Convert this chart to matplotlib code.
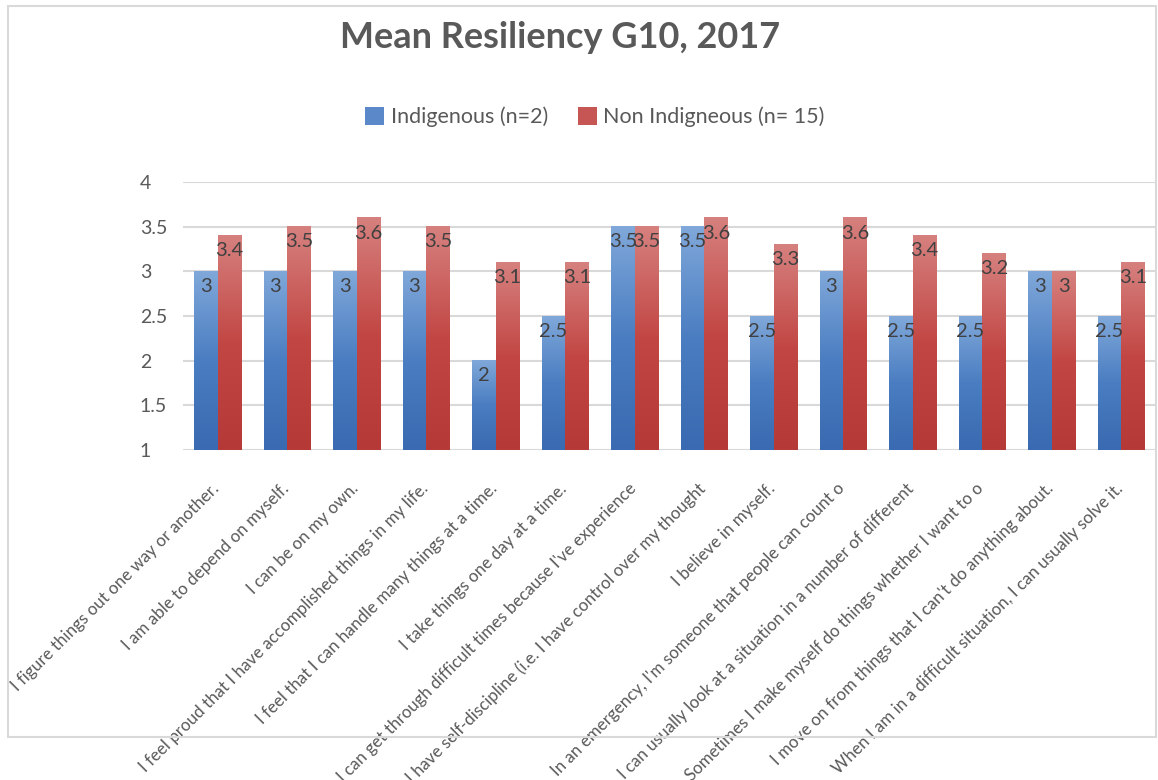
import numpy as np
import matplotlib.pyplot as plt
from matplotlib.colors import LinearSegmentedColormap
from matplotlib.patches import Rectangle, Patch
from matplotlib.transforms import ScaledTranslation

plt.rcParams['font.family'] = ['Lato', 'DejaVu Sans']

# data
items = [
    "I figure things out one way or another.",
    "I am able to depend on myself.",
    "I can be on my own.",
    "I feel proud that I have accomplished things in my life.",
    "I feel that I can handle many things at a time.",
    "I take things one day at a time.",
    "I can get through difficult times because I've experience",
    "I have self-discipline (i.e. I have control over my thought",
    "I believe in myself.",
    "In an emergency, I'm someone that people can count o",
    "I can usually look at a situation in a number of different",
    "Sometimes I make myself do things whether I want to o",
    "I move on from things that I can't do anything about.",
    "When I am in a difficult situation, I can usually solve it.",
]
indigenous = [3, 3, 3, 3, 2, 2.5, 3.5, 3.5, 2.5, 3, 2.5, 2.5, 3, 2.5]
non_indigenous = [3.4, 3.5, 3.6, 3.5, 3.1, 3.1, 3.5, 3.6, 3.3, 3.6, 3.4, 3.2, 3.0, 3.1]
series_names = ["Indigenous (n=2)", "Non Indigneous (n= 15)"]

blue_cmap = LinearSegmentedColormap.from_list('b', ['#80a8da', '#4a7dc1', '#3a6ab1'])
red_cmap = LinearSegmentedColormap.from_list('r', ['#d6817f', '#c24744', '#b53a37'])

W, H = 1158, 780
fig = plt.figure(figsize=(W / 100, H / 100), dpi=100)
ax = fig.add_axes([183 / W, (H - 450) / H, (1156 - 183) / W, (450 - 182) / H])

x = np.arange(len(items))
bw = 0.34
b1 = ax.bar(x - bw / 2, np.array(indigenous) - 1, bw, bottom=1, color='none', zorder=3)
b2 = ax.bar(x + bw / 2, np.array(non_indigenous) - 1, bw, bottom=1, color='none', zorder=3)

# gradient fill for each bar
grad = np.linspace(0, 1, 256).reshape(-1, 1)
for bars, cmap in [(b1, blue_cmap), (b2, red_cmap)]:
    for r in bars:
        x0, y0 = r.get_x(), r.get_y()
        ax.imshow(grad, cmap=cmap, aspect='auto', origin='upper',
                  extent=[x0, x0 + r.get_width(), y0, y0 + r.get_height()], zorder=3)

# data labels just under the top of each bar
for bars, vals in [(b1, indigenous), (b2, non_indigenous)]:
    for r, v in zip(bars, vals):
        ax.annotate(f"{v:g}", (r.get_x() + r.get_width() / 2, v), xytext=(0, -11),
                    textcoords='offset points', ha='center', va='center',
                    fontsize=14.5, color='#404040', zorder=5)

ax.set_xlim(-0.5, len(items) - 0.5)
ax.set_ylim(1, 4)
ax.set_yticks([1, 1.5, 2, 2.5, 3, 3.5, 4])
ax.set_yticklabels(['1', '1.5', '2', '2.5', '3', '3.5', '4'], ha='left')
ax.tick_params(axis='y', length=0, pad=31, labelsize=14, labelcolor='#595959')
ax.yaxis.grid(True, color='#d9d9d9', lw=1.5, zorder=0)
ax.set_axisbelow(True)
for s in ax.spines.values():
    s.set_visible(False)

ax.set_xticks(x)
ax.set_xticklabels(items, rotation=45, ha='right', va='center', rotation_mode='anchor')
ax.tick_params(axis='x', length=0, pad=26, labelsize=12.2, labelcolor='#595959')
for lab in ax.get_xticklabels():
    lab.set_transform(lab.get_transform() + ScaledTranslation(-1 / 100, 0, fig.dpi_scale_trans))

fig.text(560 / W, 1 - 37 / H, "Mean Resiliency G10, 2017", ha='center', va='center',
         fontsize=26, fontweight='bold', color='#595959')

handles = [Patch(facecolor='#5a88c8'), Patch(facecolor='#c65654')]
fig.legend(handles, series_names, loc='center', bbox_to_anchor=(595 / W, 1 - 117 / H),
           ncol=2, frameon=False, fontsize=15.5, labelcolor='#595959',
           handlelength=0.88, handleheight=0.88, handletextpad=0.3, columnspacing=1.4)

fig.patches.append(Rectangle((8 / W, (H - 737) / H), (1156 - 8) / W, (737 - 6) / H,
                             transform=fig.transFigure, fill=False, ec='#d9d9d9', lw=1.5))

fig.savefig('out.png', dpi=100)
